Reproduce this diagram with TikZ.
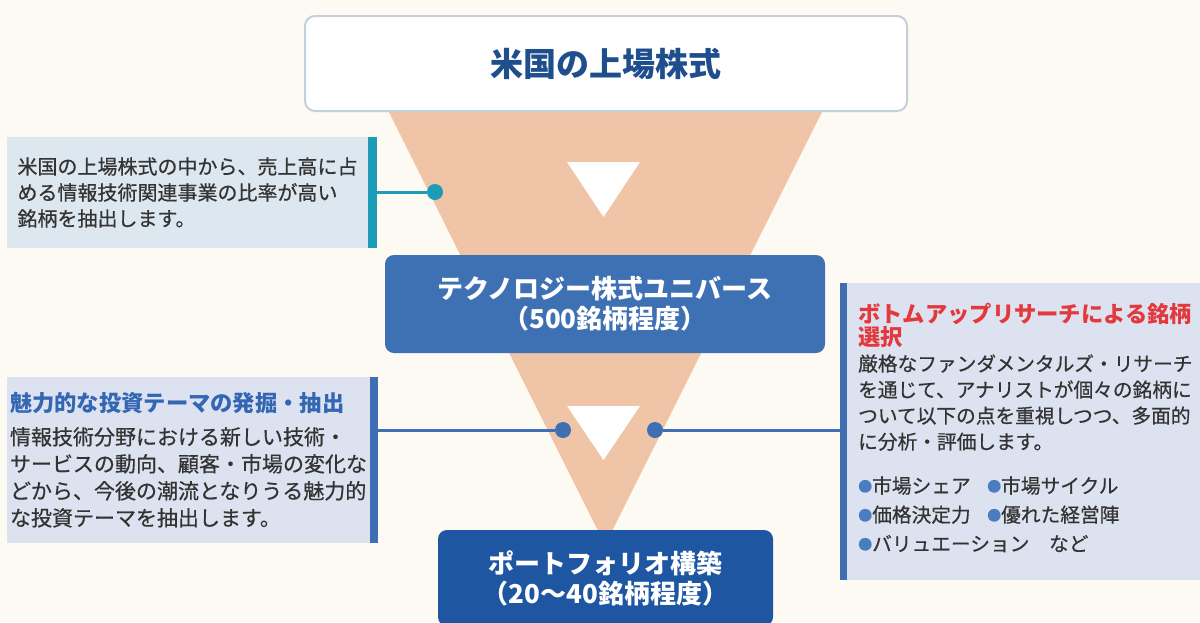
\documentclass[tikz,border=0pt]{standalone}
\usepackage{fontspec}
\setmainfont{Noto Sans CJK JP}
\newfontfamily\notefont{Noto Sans CJK JP}[UprightFeatures={FakeBold=0.6}]

\definecolor{paper}{HTML}{FCFAF3}
\definecolor{funnel}{HTML}{F0C4A6}
\definecolor{frame}{HTML}{C2D0DA}
\definecolor{titleblue}{HTML}{1F4E8C}
\definecolor{midblue}{HTML}{3E70B4}
\definecolor{darkblue}{HTML}{1E56A2}
\definecolor{tealbar}{HTML}{1C9CB6}
\definecolor{linkblue}{HTML}{3F6EB2}
\definecolor{themeblue}{HTML}{3366B3}
\definecolor{alertred}{HTML}{E4393C}
\definecolor{boxa}{HTML}{DCE7EF}
\definecolor{boxb}{HTML}{DDE2F0}
\definecolor{textgray}{HTML}{333333}
\definecolor{bulblue}{HTML}{4A7CC0}

\newcommand{\bul}{\raisebox{1.5pt}{\color{bulblue}\fontsize{14}{14}\selectfont ●}}

\begin{document}
\begin{tikzpicture}[x=1pt, y=-1pt,
        stage/.style={rounded corners=9pt, text=white, align=center, inner sep=0pt,
            font=\bfseries\fontsize{26}{30}\selectfont},
        note/.style={align=left, text=textgray, inner sep=0pt},
        pin/.style={circle, inner sep=0pt, minimum size=16pt},
        link/.style={line width=3pt}]

        \fill[paper] (0,0) rectangle (1200,622);
        \useasboundingbox (0,0) rectangle (1200,622);

        \fill[funnel] (388,110) -- (823,110) -- (605,545) -- cycle;
        \fill[white] (567,162) -- (640,162) -- (603.5,217) -- cycle;
        \fill[white] (567,406) -- (640,406) -- (603.5,460) -- cycle;

        \node (market) at (606,63.5) [draw=frame, line width=2pt, fill=white, rounded corners=10pt,
            minimum width=602pt, minimum height=95pt, text=titleblue,
            font=\bfseries\fontsize{33}{36}\selectfont] {米国の上場株式};
        \node (universe) at (605,304) [stage, fill=midblue, minimum width=440pt, minimum height=98pt]
            {テクノロジー株式ユニバース\\（500銘柄程度）};
        \node (portfolio) at (605.5,578) [stage, fill=darkblue, minimum width=335pt, minimum height=96pt]
            {ポートフォリオ構築\\（20〜40銘柄程度）};

        \node (screen) at (187.5,192.5) [note, fill=boxa, minimum width=361pt, minimum height=111pt,
            font=\notefont\fontsize{20}{26}\selectfont]
            {米国の上場株式の中から、売上高に占\\める情報技術関連事業の比率が高い\\銘柄を抽出します。};
        \node (pin1) at (435,192) [pin, fill=tealbar] {};
        \draw[link, tealbar] (pin1) -- (pin1 -| screen.east);
        \fill[tealbar] (368,137) rectangle (377,248);

        \node (theme) at (188.5,460) [note, fill=boxb, minimum width=363pt, minimum height=166pt,
            font=\notefont\fontsize{21}{27}\selectfont]
            {{\color{themeblue}\bfseries\fontsize{22.3}{27}\selectfont 魅力的な投資テーマの発掘・抽出}\\[6pt]
             情報技術分野における新しい技術・\\
             サービスの動向、顧客・市場の変化な\\
             どから、今後の潮流となりうる魅力的\\
             な投資テーマを抽出します。};
        \node (pin2) at (563,430) [pin, fill=linkblue] {};
        \draw[link, linkblue] (pin2) -- (pin2 -| theme.east);
        \fill[linkblue] (370,377) rectangle (378,543);

        \node (research) at (1026,431.5) [fill=boxb, minimum width=358pt, minimum height=297pt] {};
        \node (points) at (858,427.5) [note, anchor=west, font=\notefont\fontsize{19.7}{26}\selectfont]
            {{\color{alertred}\bfseries\fontsize{22.3}{26}\selectfont ボトムアップリサーチによる銘柄}\\[-3pt]
             {\color{alertred}\bfseries\fontsize{22.3}{26}\selectfont 選択}\\
             厳格なファンダメンタルズ・リサーチ\\
             を通じて、アナリストが個々の銘柄に\\
             ついて以下の点を重視しつつ、多面的\\
             に分析・評価します。\\[18pt]
             \makebox[129pt][l]{\bul 市場シェア}\bul 市場サイクル\\[3pt]
             \makebox[129pt][l]{\bul 価格決定力}\bul 優れた経営陣\\[3pt]
             \bul バリュエーション　など};
        \node (pin3) at (655,430) [pin, fill=linkblue] {};
        \draw[link, linkblue] (pin3) -- (pin3 -| research.west);
        \fill[linkblue] (840,283) rectangle (847,580);
    \end{tikzpicture}
\end{document}
